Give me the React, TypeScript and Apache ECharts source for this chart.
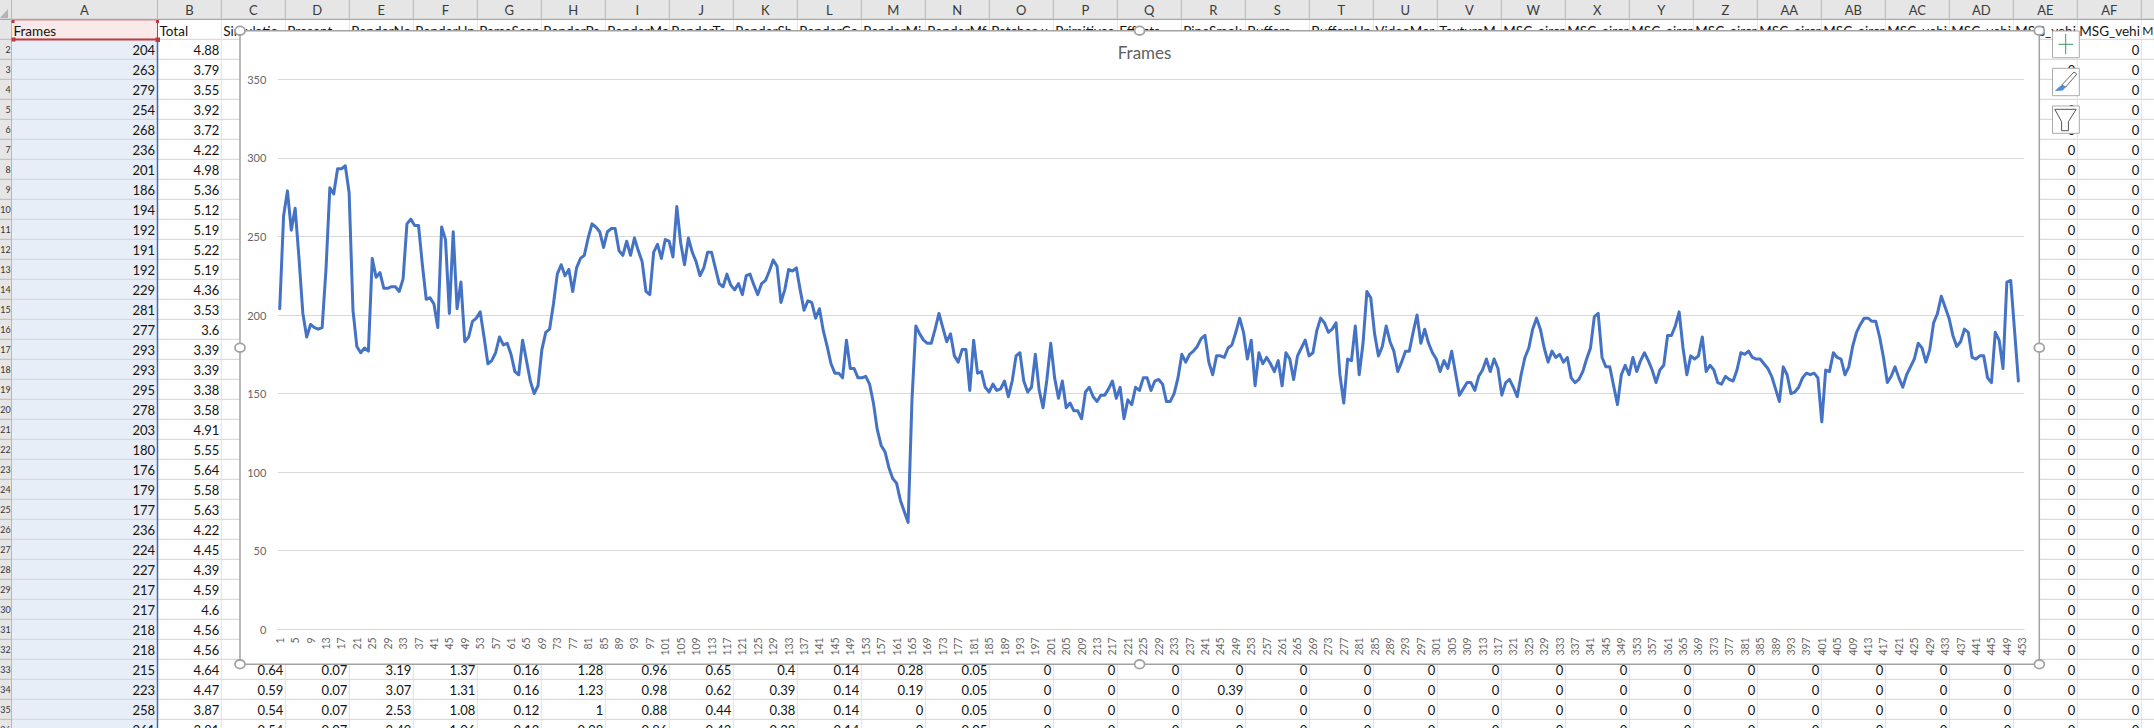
import React, { useEffect, useRef } from "react";
import * as echarts from "echarts";

const titleText = "Frames";
const frames: number[] = [
  204,263,279,254,268,236,201,186,194,192,191,192,229,281,277,293,293,295,278,203,
  180,176,179,177,236,224,227,217,217,218,218,215,223,258,261,257,257,232,210,211,
  207,192,256,248,201,253,204,221,183,186,196,198,202,186,169,171,176,186,181,182,
  175,164,162,184,171,158,150,155,178,189,191,207,226,232,225,229,215,230,236,238,
  249,258,256,253,243,253,255,255,241,238,247,238,249,241,234,215,213,240,245,236,
  248,247,237,269,246,232,249,240,234,225,230,240,240,230,220,218,226,219,216,220,
  213,225,226,219,213,220,222,228,235,231,208,216,229,228,230,216,203,209,208,198,
  204,190,180,169,163,163,160,184,166,166,160,160,161,156,144,127,117,113,103,96,
  93,82,75,68,146,193,188,184,182,182,191,201,192,183,188,174,170,178,178,152,
  184,163,164,154,151,156,152,153,158,148,158,174,176,158,151,154,175,152,141,159,
  182,160,147,158,141,144,139,139,134,151,154,148,145,149,149,153,158,147,154,134,
  146,143,154,152,160,160,152,158,159,156,145,145,150,160,175,170,175,177,180,185,
  187,170,162,174,174,173,179,181,189,198,189,172,184,155,176,169,173,169,164,171,
  155,176,172,159,174,179,184,174,176,190,198,195,189,191,195,162,144,172,171,193,
  162,182,215,211,188,174,180,193,183,177,164,170,177,177,189,200,182,191,182,176,
  172,164,171,166,177,163,149,153,157,157,152,161,165,172,164,172,166,149,157,159,
  154,148,162,173,179,191,198,191,179,170,177,173,175,170,173,160,157,159,164,172,
  179,199,201,173,167,167,155,143,162,168,162,173,164,171,176,171,165,157,165,168,
  187,187,193,202,179,162,174,172,174,186,164,168,165,157,156,161,159,158,165,176,
  175,177,173,172,172,169,166,161,153,145,167,162,150,151,154,160,163,162,163,160,
  132,165,164,176,173,172,162,167,180,189,194,198,198,196,196,186,173,157,161,167,
  160,154,162,167,172,182,179,170,178,195,201,212,205,198,187,180,183,191,189,173,
  172,174,174,160,157,189,184,166,221,222,190,158,
];
const categoryCount = 453;
const categories: string[] = Array.from({ length: categoryCount }, (_, i) => String(i + 1));
const yTicks = { min: 0, max: 350, step: 50 };

const columnLetters = ["A","B","C","D","E","F","G","H","I","J","K","L","M","N","O","P","Q","R","S","T","U","V","W","X","Y","Z","AA","AB","AC","AD","AE","AF","AG"];
const headerCells = ["Frames","Total","Simulatio","Present","RenderNc","RenderUp","ParseScen","RenderPa","RenderMc","RenderTe","RenderSh","RenderCo","RenderMi","RenderMf","Patches x","Primitives","Effects","PipeSmok","Buffers","BuffersUp","VideoMer","TextureM","MSC_aircr","MSC_aircr","MSC_aircr","MSC_aircr","MSC_aircr","MSC_aircr","MSC_vehi","MSC_vehi","MSG_vehi","MSG_vehi","M"];
const columnFrames = [204,263,279,254,268,236,201,186,194,192,191,192,229,281,277,293,293,295,278,203,180,176,179,177,236,224,227,217,217,218,218,215,223,258,261];
const columnTotal = ["4.88","3.79","3.55","3.92","3.72","4.22","4.98","5.36","5.12","5.19","5.22","5.19","4.36","3.53","3.6","3.39","3.39","3.38","3.58","4.91","5.55","5.64","5.58","5.63","4.22","4.45","4.39","4.59","4.6","4.56","4.56","4.64","4.47","3.87","3.81"];
const row33 = ["0.64","0.07","3.19","1.37","0.16","1.28","0.96","0.65","0.4","0.14","0.28","0.05"];
const row34 = ["0.59","0.07","3.07","1.31","0.16","1.23","0.98","0.62","0.39","0.14","0.19","0.05"];
const row35 = ["0.54","0.07","2.53","1.08","0.12","1","0.88","0.44","0.38","0.14","0","0.05"];
const row36 = ["0.54","0.07","2.49","1.06","0.12","0.98","0.86","0.43","0.38","0.14","0","0.05"];

const FAMILY = 'Lato, "Noto Sans", sans-serif';
const CELL_FONT = "13px " + FAMILY;

function buildSheet(): any[] {
  const els: any[] = [];
  const W = 2154, H = 728;
  const rowTop = (r: number) => 19.3 + (r - 1) * 20;
  const colEdges: number[] = [11.5, 157.5, 221.3];
  for (let i = 2; i < columnLetters.length; i++) colEdges.push(colEdges[i] + 64);
  const text = (t: string, x: number, y: number, align: string, fill = "#141414", font = CELL_FONT) =>
    els.push({ type: "text", silent: true, x, y, style: { text: t, fill, font, textAlign: align, textVerticalAlign: "middle" } });
  const rect = (x: number, y: number, w: number, h: number, fill: string, stroke?: string, lw = 1) =>
    els.push({ type: "rect", silent: true, shape: { x, y, width: w, height: h }, style: { fill, stroke: stroke || "none", lineWidth: lw } });
  const line = (x1: number, y1: number, x2: number, y2: number, stroke: string, lw = 1) =>
    els.push({ type: "line", silent: true, shape: { x1, y1, x2, y2 }, style: { stroke, lineWidth: lw } });

  rect(0, 0, W, H, "#ffffff");
  rect(colEdges[0], rowTop(2), colEdges[1] - colEdges[0], H - rowTop(2), "#E8EEF8");
  rect(colEdges[0], rowTop(1), colEdges[1] - colEdges[0], 20, "#F9E9E9");

  // grid lines
  for (let r = 2; r < 38; r++) line(0, rowTop(r), W, rowTop(r), "#D2D2D2");
  for (let c = 0; c < colEdges.length; c++) line(colEdges[c], 19, colEdges[c], H, "#E2E2E2");

  // headers
  rect(0, 0, W, 19, "#E6E6E6");
  rect(0, 19, colEdges[0], H - 19, "#E6E6E6");
  line(0, 19.3, W, 19.3, "#A8A8A8", 1.2);
  line(colEdges[0], 0, colEdges[0], H, "#B8B8B8");
  els.push({ type: "polygon", silent: true, shape: { points: [[8, 9], [8, 18], [0, 18]] }, style: { fill: "#B4B4B4" } });
  columnLetters.forEach((l, i) => {
    if (i < columnLetters.length - 1) {
      text(l, (colEdges[i] + colEdges[i + 1]) / 2, 9.5, "center", "#3a3a3a");
      line(colEdges[i + 1], 0, colEdges[i + 1], 19, "#B8B8B8");
    }
  });
  for (let r = 2; r < 38; r++) {
    line(0, rowTop(r), colEdges[0], rowTop(r), "#B8B8B8");
    if (r <= 36) text(String(r), 10.8, rowTop(r) + 10.5, "right", "#333333", "9px " + FAMILY);
  }

  headerCells.forEach((h, i) => {
    if (i === headerCells.length - 1) text(h, W - 0.5, 30.5, "right", "#141414", "12px " + FAMILY);
    else text(h, colEdges[i] + 2, 30.5, "left", "#141414", "13.5px " + FAMILY);
  });
  columnFrames.forEach((v, i) => text(String(v), colEdges[1] - 2.5, rowTop(i + 2) + 10.5, "right"));
  columnTotal.forEach((v, i) => text(v, colEdges[2] - 2, rowTop(i + 2) + 10.5, "right"));

  [row33, row34, row35, row36].forEach((rowVals, k) => {
    for (let c = 2; c < 30; c++) {
      let v = rowVals[c - 2] ?? "0";
      if (k === 1 && c === 17) v = "0.39";
      text(v, colEdges[c + 1] - 2, rowTop(33 + k) + 10.5, "right");
    }
  });
  for (let r = 2; r <= 36; r++) {
    text("0", colEdges[31] - 2, rowTop(r) + 10.5, "right");
    text("0", colEdges[32] - 2, rowTop(r) + 10.5, "right");
  }

  // selection marks
  line(colEdges[0], 20.5, colEdges[1], 20.5, "#E3B7B9", 1);
  line(colEdges[0] + 1, 39.6, colEdges[1], 39.6, "#BE3A40", 2);
  line(colEdges[1], 20, colEdges[1], 40, "#BE3A40", 1);
  line(colEdges[1], 40, colEdges[1], H, "#3A6DBB", 1.5);
  rect(colEdges[0], 20, 3, 3, "#BE3A40");
  rect(colEdges[1] - 1.5, 20, 3, 3, "#BE3A40");
  rect(colEdges[0], 37.5, 4, 4, "#BE3A40");
  rect(colEdges[1] - 2, 37.5, 4.5, 4.5, "#BE3A40");

  // chart frame
  const L = 240, T = 30.7, R = 2039.3, B = 664.3, MX = 1139.6, MY = 347.7;
  rect(L, T, R - L, B - T, "#ffffff", "#A2A2A2", 1.5);
  [[L, T], [MX, T], [R, T], [L, MY], [R, MY], [L, B], [MX, B], [R, B]].forEach(([cx, cy]) =>
    els.push({ type: "ellipse", silent: true, shape: { cx, cy, rx: 5, ry: 4.3 }, style: { fill: "#ffffff", stroke: "#A2A2A2", lineWidth: 1.8 } })
  );

  // chart tool buttons
  rect(2052.5, 31, 26.8, 26.7, "#ffffff", "#ABABAB");
  rect(2052.5, 68.3, 26.8, 27.4, "#ffffff", "#ABABAB");
  rect(2052.5, 106, 26.8, 27.3, "#ffffff", "#ABABAB");
  line(2058.4, 44.3, 2073, 44.3, "#3C9A5F", 1);
  line(2065.7, 34, 2065.7, 54, "#3C9A5F", 1);
  els.push({ type: "polygon", silent: true, shape: { points: [[2074, 72], [2076.8, 74], [2065.8, 87], [2061.8, 85]] }, style: { fill: "#ffffff", stroke: "#666666", lineWidth: 1 } });
  els.push({ type: "polygon", silent: true, shape: { points: [[2061.8, 85], [2065.8, 87], [2062.8, 90.5], [2054.8, 91], [2057.8, 88]] }, style: { fill: "#4A8FD6" } });
  els.push({ type: "polygon", silent: true, shape: { points: [[2054.8, 109.3], [2076.2, 109.3], [2068.4, 121.7], [2068.4, 130.7], [2061.6, 130.7], [2061.6, 121.7]] }, style: { fill: "#ffffff", stroke: "#555555", lineWidth: 1 } });
  return els;
}

export default function App() {
  const ref = useRef<HTMLDivElement>(null);
  useEffect(() => {
    document.body.style.margin = "0";
    const chart = echarts.init(ref.current!, undefined, { renderer: "svg" });
    chart.setOption({
      animation: false,
      backgroundColor: "#ffffff",
      graphic: { z: -10, elements: buildSheet() },
      title: {
        text: titleText,
        left: 1139.6,
        top: 39,
        textAlign: "center",
        textStyle: { color: "#5f5f5f", fontSize: 17, fontWeight: 400, fontFamily: FAMILY },
      },
      grid: { left: 277.8, top: 79.3, width: 1746.4, height: 550, containLabel: false },
      xAxis: {
        type: "category",
        data: categories,
        boundaryGap: true,
        axisLine: { show: true, lineStyle: { color: "#D9D9D9", width: 1 } },
        axisTick: { show: false },
        axisLabel: { interval: 3, rotate: 90, margin: 8, fontSize: 10.5, color: "#666666", fontFamily: FAMILY },
        splitLine: { show: false },
      },
      yAxis: {
        type: "value",
        min: yTicks.min,
        max: yTicks.max,
        interval: yTicks.step,
        axisLine: { show: false },
        axisTick: { show: false },
        axisLabel: { margin: 11.5, fontSize: 11, color: "#666666", fontFamily: FAMILY },
        splitLine: { show: true, lineStyle: { color: "#D9D9D9", width: 1 } },
      },
      series: [
        {
          type: "line",
          name: titleText,
          data: frames,
          showSymbol: false,
          smooth: false,
          lineStyle: { color: "#4472C4", width: 3, cap: "round", join: "round" },
        },
      ],
    });
    return () => chart.dispose();
  }, []);
  return <div ref={ref} style={{ width: 2154, height: 728 }} />;
}
